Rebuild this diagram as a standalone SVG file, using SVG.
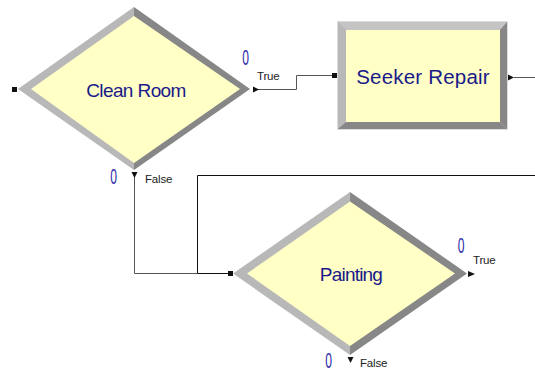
<svg xmlns="http://www.w3.org/2000/svg" width="535" height="372" viewBox="0 0 535 372">
  <style>
    .light { fill: #b8b8b8; }
    .dark { fill: #878787; }
    .face { fill: #ffffc6; }
    .name { font-family: "Liberation Sans", Arial, sans-serif; fill: #1a1a8a; text-anchor: middle; }
    .lbl { font-family: "Liberation Sans", Arial, sans-serif; font-size: 11.5px; fill: #222; letter-spacing: -0.2px; }
    .cnt { font-family: "Liberation Sans", Arial, sans-serif; font-size: 22px; fill: #2a2aa8; text-anchor: middle; }
    .wire { fill: none; stroke: #555; stroke-width: 1; }
    .wire-dark { fill: none; stroke: #111; stroke-width: 1; }
    .port { fill: #111; }
  </style>

  <rect width="535" height="372" fill="#ffffff"/>

  <!-- connectors -->
  <g id="connectors">
    <!-- Clean Room True -> Seeker Repair -->
    <polyline class="wire" points="258,89.5 296.5,89.5 296.5,75.5 333,75.5"/>
    <!-- Seeker Repair output -->
    <line class="wire" x1="514" y1="77.5" x2="535" y2="77.5"/>
    <!-- Clean Room False -> Painting -->
    <polyline class="wire" points="134.5,177 134.5,273.5 197.5,273.5"/>
    <line class="wire-dark" x1="197.5" y1="273.5" x2="229" y2="273.5"/>
    <!-- loop back into Painting -->
    <polyline class="wire-dark" points="535,175.5 197.5,175.5 197.5,273.5"/>

    <!-- exit arrowheads -->
    <polygon class="port" points="253,86.5 259,89.5 253,92.5"/>
    <polygon class="port" points="508,74.5 514,77.5 508,80.5"/>
    <polygon class="port" points="131.5,172 137.5,172 134.5,178"/>
    <polygon class="port" points="468,271 475,274 468,277"/>
    <polygon class="port" points="347.5,357 353.5,357 350.5,363"/>

    <!-- entry ports -->
    <rect class="port" x="12" y="87" width="5" height="5"/>
    <rect class="port" x="332" y="73" width="5" height="5"/>
    <rect class="port" x="228" y="271" width="5" height="5"/>

    <!-- branch labels -->
    <text class="lbl" x="257" y="80">True</text>
    <text class="lbl" x="145" y="183">False</text>
    <text class="lbl" x="473" y="264">True</text>
    <text class="lbl" x="360" y="367">False</text>
  </g>

  <!-- Clean Room decision -->
  <g id="clean-room">
    <polygon class="light" points="134,7 18,89 134,170"/>
    <polygon class="dark" points="134,7 250,89 134,170"/>
    <polygon class="face" points="31,89 134,16 240,89 134,163"/>
    <text class="name" x="136" y="97" font-size="19" letter-spacing="-0.6">Clean Room</text>
    <text class="cnt" transform="translate(245.5,65) scale(0.55,1)">0</text>
    <text class="cnt" transform="translate(113.5,183.5) scale(0.55,1)">0</text>
  </g>

  <!-- Seeker Repair process -->
  <g id="seeker-repair">
    <rect x="337.5" y="21.5" width="170" height="108" fill="#c4c4c4" stroke="#dcdcdc" stroke-width="1"/>
    <polygon class="light" points="338,22 346,30 346,122 338,129"/>
    <polygon class="dark" points="507,22 500,30 500,122 507,129"/>
    <polygon class="dark" points="338,129 346,122 500,122 507,129"/>
    <rect class="face" x="346" y="30" width="154" height="92"/>
    <text class="name" x="423" y="84" font-size="20.5" letter-spacing="0.2">Seeker Repair</text>
  </g>

  <!-- Painting decision -->
  <g id="painting">
    <polygon class="light" points="350,192 233,273.5 350,355"/>
    <polygon class="dark" points="350,192 467,273.5 350,355"/>
    <polygon class="face" points="247,273.5 350,201.5 455,273.5 350,346"/>
    <text class="name" x="351" y="281" font-size="19" letter-spacing="-0.8">Painting</text>
    <text class="cnt" transform="translate(461,252.5) scale(0.55,1)">0</text>
    <text class="cnt" transform="translate(328.5,367.5) scale(0.55,1)">0</text>
  </g>
</svg>
